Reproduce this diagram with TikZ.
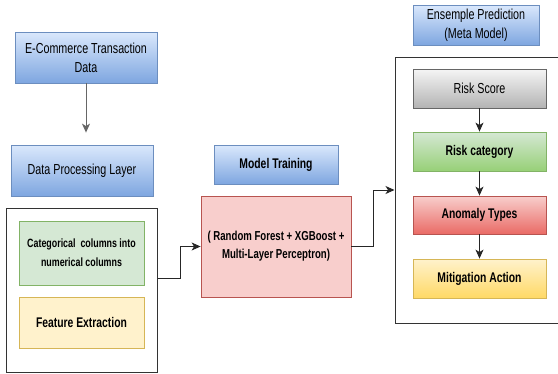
\documentclass[tikz,border=0pt]{standalone}
\usepackage{fontspec}
\setmainfont[FakeStretch=0.74]{Liberation Sans}
\usetikzlibrary{arrows.meta}

\definecolor{blueTop}{HTML}{DAE8FC}
\definecolor{blueBot}{HTML}{7EA6E0}
\definecolor{blueLine}{HTML}{6C8EBF}
\definecolor{greyTop}{HTML}{F5F5F5}
\definecolor{greyBot}{HTML}{B3B3B3}
\definecolor{greyLine}{HTML}{666666}
\definecolor{greenFill}{HTML}{D5E8D4}
\definecolor{greenBot}{HTML}{97D077}
\definecolor{greenLine}{HTML}{82B366}
\definecolor{redFill}{HTML}{F8CECC}
\definecolor{redBot}{HTML}{EA6B66}
\definecolor{redLine}{HTML}{B85450}
\definecolor{yellowFill}{HTML}{FFF2CC}
\definecolor{yellowBot}{HTML}{FFD966}
\definecolor{yellowLine}{HTML}{D6B656}

\begin{document}
\begin{tikzpicture}[
    x=1pt,
    y=-1pt,
    >={Stealth[length=9pt,width=8pt,inset=2.5pt]},
    box/.style={draw,line width=0.8pt,align=center,inner sep=0pt,
      font=\fontsize{14.5}{19}\selectfont},
    bluebox/.style={box,draw=blueLine,top color=blueTop,bottom color=blueBot},
    frame/.style={draw=black!80,line width=1pt,inner sep=0pt},
    conn/.style={->,line width=1pt,black!85},
    boldlabel/.style={font=\fontsize{14}{18}\selectfont\bfseries}
  ]
    \useasboundingbox (0,0) rectangle (558,373);

    % left column
    \node[bluebox,minimum width=142pt,minimum height=51pt] (data) at (86,57.5)
      {E-Commerce Transaction\\Data};
    \node[bluebox,minimum width=142pt,minimum height=51pt] (proc) at (82,170.5)
      {Data Processing Layer};
    \node[frame,minimum width=151pt,minimum height=164pt] (prep) at (81.5,290) {};
    \node[box,draw=greenLine,fill=greenFill,minimum width=125pt,minimum height=64pt,
      font=\fontsize{12}{19}\selectfont\bfseries] (cat) at (81.5,253)
      {Categorical\ \ columns into\\numerical columns};
    \node[box,draw=yellowLine,fill=yellowFill,minimum width=125pt,minimum height=51pt,
      boldlabel] (feat) at (81.5,322.5) {Feature Extraction};

    % middle column
    \node[bluebox,minimum width=124pt,minimum height=39pt,boldlabel] (train) at (276,164.5)
      {Model Training};
    \node[box,draw=redLine,fill=redFill,minimum width=150pt,minimum height=101pt,
      font=\fontsize{13}{18}\selectfont\bfseries] (model) at (276,246.5)
      {( Random Forest + XGBoost +\\Multi-Layer Perceptron)};

    % right column
    \node[bluebox,minimum width=126pt,minimum height=40pt] (ens) at (476,25)
      {Ensemple Prediction\\(Meta Model)};
    \node[frame,minimum width=170pt,minimum height=266pt] (meta) at (480,190) {};
    \node[box,draw=greyLine,top color=greyTop,bottom color=greyBot,
      minimum width=133pt,minimum height=39pt] (score) at (479.5,88.5) {Risk Score};
    \node[box,draw=greenLine,top color=greenFill,bottom color=greenBot,
      minimum width=133pt,minimum height=39pt,boldlabel] (cate) at (479.5,151.5)
      {Risk category};
    \node[box,draw=redLine,top color=redFill,bottom color=redBot,
      minimum width=133pt,minimum height=38pt,boldlabel] (anom) at (479.5,215)
      {Anomaly Types};
    \node[box,draw=yellowLine,top color=yellowFill,bottom color=yellowBot,
      minimum width=133pt,minimum height=39pt,boldlabel] (miti) at (479.5,278.5)
      {Mitigation Action};

    \draw[conn,draw=black!60,shorten >=12pt] (data.south) -- (data.south |- proc.north);
    \draw[conn] ([yshift=12pt]prep.east) -- ++(23,0) |- (model.west);
    \draw[conn] (model.east) -- ++(22,0) |- (meta.west);
    \draw[conn] (score) -- (cate);
    \draw[conn] (cate) -- (anom);
    \draw[conn] (anom) -- (miti);
  \end{tikzpicture}
\end{document}
